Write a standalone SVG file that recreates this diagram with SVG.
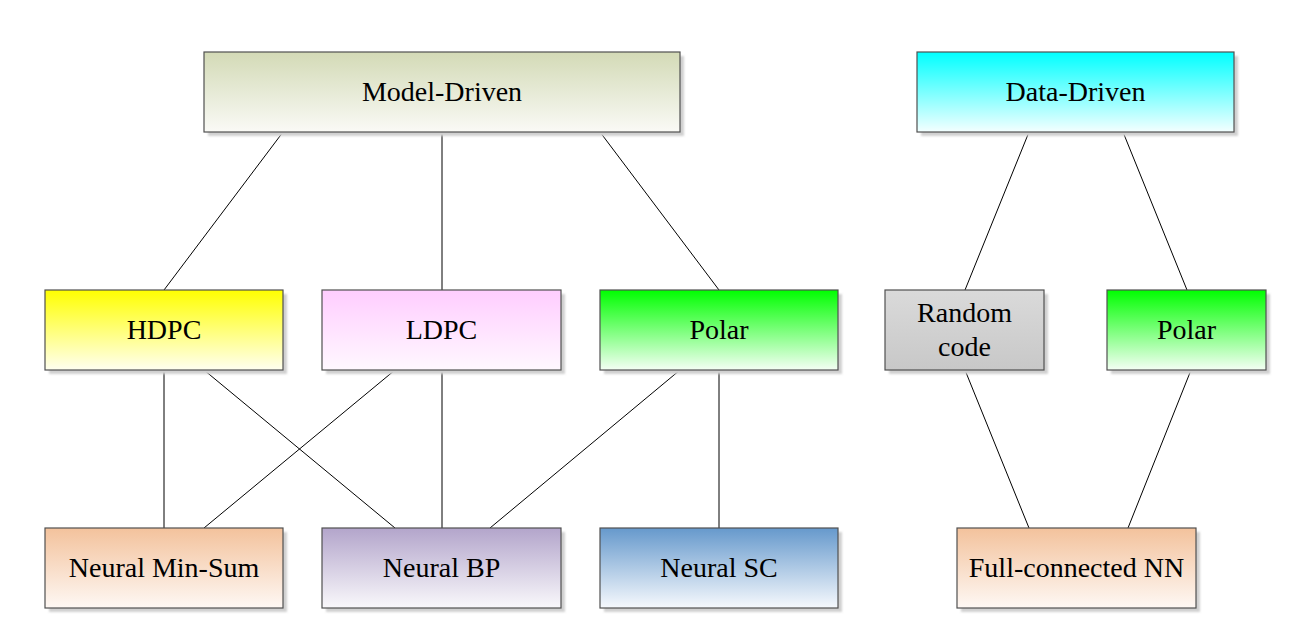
<svg xmlns="http://www.w3.org/2000/svg" width="1307" height="635" viewBox="0 0 1307 635">
<style>
.box{stroke:#505050;stroke-width:1.2}
.sh{fill:#d0d0d0;filter:url(#blur)}
text{font-family:'Liberation Serif','Times New Roman','DejaVu Serif',serif;font-size:28px;fill:#000;text-anchor:middle}
.c line{stroke:#000;stroke-width:1}
</style>
<defs>
<filter id="blur" x="-5%" y="-5%" width="110%" height="110%"><feGaussianBlur stdDeviation="1.2"/></filter>
<linearGradient id="gModel" x1="0" y1="0" x2="0" y2="1"><stop offset="0" stop-color="#d3dab6"/><stop offset="1" stop-color="#fafaf6"/></linearGradient>
<linearGradient id="gData" x1="0" y1="0" x2="0" y2="1"><stop offset="0" stop-color="#00ffff"/><stop offset="1" stop-color="#f4ffff"/></linearGradient>
<linearGradient id="gYellow" x1="0" y1="0" x2="0" y2="1"><stop offset="0" stop-color="#ffff00"/><stop offset="1" stop-color="#fffff0"/></linearGradient>
<linearGradient id="gPink" x1="0" y1="0" x2="0" y2="1"><stop offset="0" stop-color="#ffcdff"/><stop offset="1" stop-color="#fff8ff"/></linearGradient>
<linearGradient id="gGreen" x1="0" y1="0" x2="0" y2="1"><stop offset="0" stop-color="#00ff00"/><stop offset="1" stop-color="#f4fff4"/></linearGradient>
<linearGradient id="gGray" x1="0" y1="0" x2="0" y2="1"><stop offset="0" stop-color="#dadada"/><stop offset="1" stop-color="#c8c8c8"/></linearGradient>
<linearGradient id="gOrange" x1="0" y1="0" x2="0" y2="1"><stop offset="0" stop-color="#f3c29c"/><stop offset="1" stop-color="#fef8f4"/></linearGradient>
<linearGradient id="gPurple" x1="0" y1="0" x2="0" y2="1"><stop offset="0" stop-color="#b3a5cb"/><stop offset="1" stop-color="#f9f8fb"/></linearGradient>
<linearGradient id="gBlue" x1="0" y1="0" x2="0" y2="1"><stop offset="0" stop-color="#6699cc"/><stop offset="1" stop-color="#f6f9fd"/></linearGradient>
</defs>
<rect width="1307" height="635" fill="#fff"/>

<g class="c" id="connectors">
<line x1="283" y1="132" x2="164" y2="290"/>
<line x1="442" y1="132" x2="442" y2="290"/>
<line x1="600" y1="132" x2="719" y2="290"/>
<line x1="1029" y1="132" x2="965" y2="290"/>
<line x1="1123" y1="132" x2="1187" y2="290"/>
<line x1="164" y1="370" x2="164" y2="528"/>
<line x1="204" y1="370" x2="395" y2="528"/>
<line x1="395" y1="370" x2="204" y2="528"/>
<line x1="442" y1="370" x2="442" y2="528"/>
<line x1="680" y1="370" x2="490" y2="528"/>
<line x1="719" y1="370" x2="719" y2="528"/>
<line x1="965" y1="370" x2="1029" y2="528"/>
<line x1="1191" y1="370" x2="1128" y2="528"/>
</g>

<g id="model-driven">
<rect class="sh" x="208" y="56" width="476" height="80"/>
<rect class="box" x="204" y="52" width="476" height="80" fill="url(#gModel)"/>
<text x="442" y="101">Model-Driven</text>
</g>
<g id="data-driven">
<rect class="sh" x="921" y="56" width="317" height="80"/>
<rect class="box" x="917" y="52" width="317" height="80" fill="url(#gData)"/>
<text x="1075.5" y="101">Data-Driven</text>
</g>
<g id="hdpc">
<rect class="sh" x="49" y="294" width="238" height="80"/>
<rect class="box" x="45" y="290" width="238" height="80" fill="url(#gYellow)"/>
<text x="164" y="339">HDPC</text>
</g>
<g id="ldpc">
<rect class="sh" x="326" y="294" width="239" height="80"/>
<rect class="box" x="322" y="290" width="239" height="80" fill="url(#gPink)"/>
<text x="441.5" y="339">LDPC</text>
</g>
<g id="polar-model">
<rect class="sh" x="604" y="294" width="238" height="80"/>
<rect class="box" x="600" y="290" width="238" height="80" fill="url(#gGreen)"/>
<text x="719" y="339">Polar</text>
</g>
<g id="random-code">
<rect class="sh" x="889" y="294" width="159" height="80"/>
<rect class="box" x="885" y="290" width="159" height="80" fill="url(#gGray)"/>
<text x="964.5" y="322">Random</text>
<text x="964.5" y="356">code</text>
</g>
<g id="polar-data">
<rect class="sh" x="1111" y="294" width="159" height="80"/>
<rect class="box" x="1107" y="290" width="159" height="80" fill="url(#gGreen)"/>
<text x="1186.5" y="339">Polar</text>
</g>
<g id="neural-min-sum">
<rect class="sh" x="49" y="532" width="238" height="80"/>
<rect class="box" x="45" y="528" width="238" height="80" fill="url(#gOrange)"/>
<text x="164" y="577">Neural Min-Sum</text>
</g>
<g id="neural-bp">
<rect class="sh" x="326" y="532" width="239" height="80"/>
<rect class="box" x="322" y="528" width="239" height="80" fill="url(#gPurple)"/>
<text x="441.5" y="577">Neural BP</text>
</g>
<g id="neural-sc">
<rect class="sh" x="604" y="532" width="238" height="80"/>
<rect class="box" x="600" y="528" width="238" height="80" fill="url(#gBlue)"/>
<text x="719" y="577">Neural SC</text>
</g>
<g id="full-connected-nn">
<rect class="sh" x="961" y="532" width="239" height="80"/>
<rect class="box" x="957" y="528" width="239" height="80" fill="url(#gOrange)"/>
<text x="1076.5" y="577">Full-connected NN</text>
</g>
</svg>
